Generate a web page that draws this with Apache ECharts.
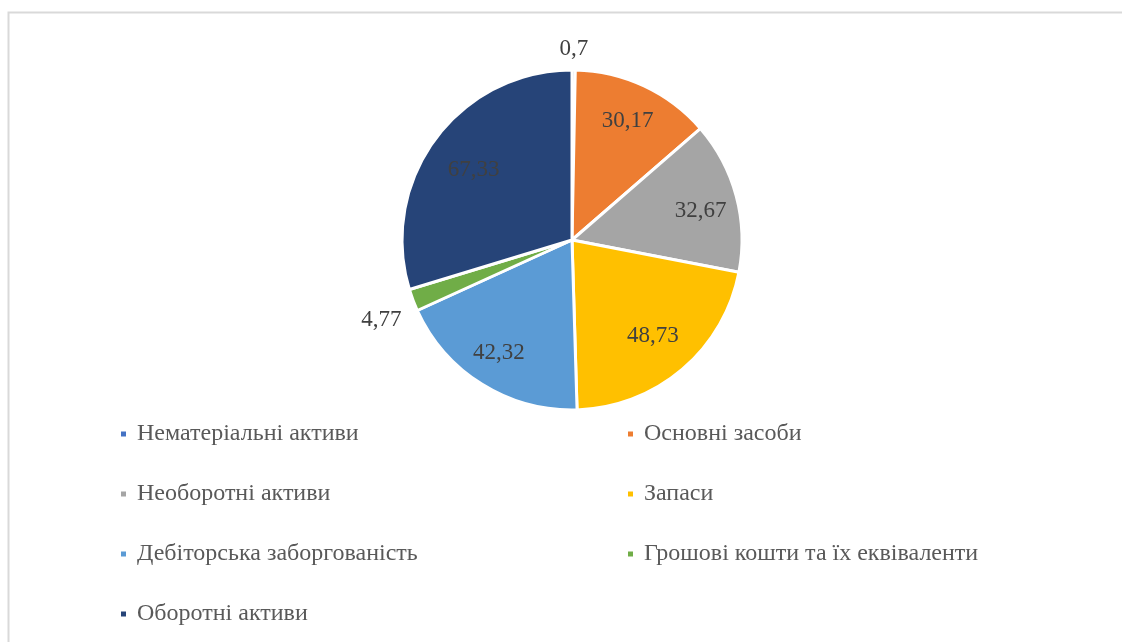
<!DOCTYPE html>
<html><head><meta charset="utf-8">
<script src="https://cdn.jsdelivr.net/npm/echarts@6/dist/echarts.min.js"></script>
<style>html,body{margin:0;padding:0;background:#fff}#c{width:1122px;height:642px}</style>
</head><body><div id="c"></div>
<script>
const categories = ["Нематеріальні активи","Основні засоби","Необоротні активи","Запаси","Дебіторська заборгованість","Грошові кошти та їх еквіваленти","Оборотні активи"];
const values = [0.7, 30.17, 32.67, 48.73, 42.32, 4.77, 67.33];
const colors = ["#4472C4","#ED7D31","#A5A5A5","#FFC000","#5B9BD5","#70AD47","#264478"];
const outsideLabelIdx = [0, 5];

const fmt = p => String(p.value).replace('.', ',');
const font = "'Liberation Serif', 'Times New Roman', serif";
const center = [572, 240];
const R = 170;
// small label nudges (layout only)
const labelNudge = {0:[0,2], 5:[-10,12], 3:[-4,-4], 6:[7,8], 4:[-4,2], 2:[2,5]};

const chart = echarts.init(document.getElementById('c'), null, {renderer:'canvas'});
const baseData = categories.map((n,i)=>({name:n, value:values[i], itemStyle:{color:colors[i]}}));
const labelData = (inside) => categories.map((n,i)=>({
  name:n, value:values[i],
  label:{show: inside ? outsideLabelIdx.indexOf(i) < 0 : outsideLabelIdx.indexOf(i) >= 0,
         offset: labelNudge[i] || [0,0]}
}));
const labelSeries = (radius, inside) => ({
  type:'pie', center, radius, silent:true, startAngle:90, clockwise:true,
  avoidLabelOverlap:false, minAngle:0, legendHoverLink:false,
  itemStyle:{color:'rgba(0,0,0,0)'}, emphasis:{disabled:true},
  label:{position:'inside', formatter:fmt, fontFamily:font, fontSize:23, color:'#404040'},
  labelLine:{show:false},
  data: labelData(inside), z:5
});
const legendText = {fontFamily:font, fontSize:24, color:'#595959', lineHeight:24, padding:[0,0,0,5]};
chart.setOption({
  animation:false,
  color: colors,
  graphic:[{type:'rect', shape:{x:8.5,y:12.5,width:1200,height:700}, style:{fill:'none', stroke:'#d9d9d9', lineWidth:2}, silent:true}],
  legend:[
    {left:119, top:422, padding:0, orient:'vertical', itemWidth:7, itemHeight:7, itemGap:36, icon:'rect',
     data:[categories[0],categories[2],categories[4],categories[6]], selectedMode:false,
     textStyle:legendText},
    {left:626, top:422, padding:0, orient:'vertical', itemWidth:7, itemHeight:7, itemGap:36, icon:'rect',
     data:[categories[1],categories[3],categories[5]], selectedMode:false,
     textStyle:legendText}
  ],
  series:[
    {type:'pie', name:'main', center, radius:[0,R], startAngle:90, clockwise:true,
     avoidLabelOverlap:false, minAngle:0,
     itemStyle:{borderColor:'#fff', borderWidth:3},
     label:{show:false}, labelLine:{show:false}, emphasis:{disabled:true},
     data: baseData},
    labelSeries([90,166], true),
    labelSeries([170,210], false)
  ]
});
</script></body></html>
